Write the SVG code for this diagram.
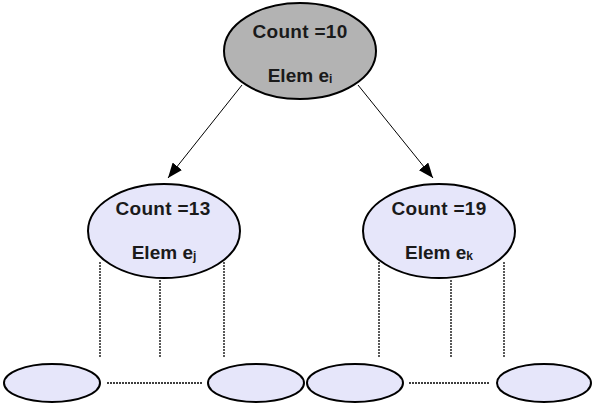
<svg xmlns="http://www.w3.org/2000/svg" width="600" height="412" viewBox="0 0 600 412">
<style>
.n{stroke:#000;stroke-width:2}
.g{fill:#b3b3b3}
.l{fill:#e6e6fa}
.t{font-family:"Liberation Sans",Arial,sans-serif;font-weight:bold;font-size:19px;fill:#1a1a1a;text-anchor:middle}
.c{letter-spacing:0.3px}
.s{font-size:12px}
.d{stroke:#000;stroke-width:1.3;stroke-dasharray:2 1;fill:none}
.a{stroke:#000;stroke-width:1;fill:none}
</style>
<defs>
<marker id="ah" viewBox="0 0 15 12" refX="15" refY="6" markerWidth="15" markerHeight="12" markerUnits="userSpaceOnUse" orient="auto">
<path d="M0,0 L15,6 L0,12 z" fill="#000"/>
</marker>
</defs>
<g id="connectors">
<line class="a" x1="242" y1="85" x2="168" y2="178" marker-end="url(#ah)"/>
<line class="a" x1="358" y1="85" x2="433" y2="178" marker-end="url(#ah)"/>
<line class="d" x1="100" y1="262" x2="100" y2="357"/>
<line class="d" x1="160" y1="280" x2="160" y2="357"/>
<line class="d" x1="224" y1="262" x2="224" y2="357"/>
<line class="d" x1="379" y1="262" x2="379" y2="357"/>
<line class="d" x1="451" y1="280" x2="451" y2="357"/>
<line class="d" x1="504" y1="262" x2="504" y2="357"/>
<line class="d" x1="107" y1="383" x2="202" y2="383"/>
<line class="d" x1="409" y1="383" x2="490" y2="383"/>
</g>
<g id="root">
<ellipse class="n g" cx="300" cy="51" rx="76" ry="48"/>
<text class="t c" x="300" y="38">Count =10</text>
<text class="t" x="300" y="82">Elem e<tspan class="s" dy="1">i</tspan></text>
</g>
<g id="left">
<ellipse class="n l" cx="164" cy="231" rx="76" ry="47"/>
<text class="t c" x="163" y="215">Count =13</text>
<text class="t" x="164" y="259">Elem e<tspan class="s" dy="1">j</tspan></text>
</g>
<g id="right">
<ellipse class="n l" cx="439" cy="231" rx="76" ry="47"/>
<text class="t c" x="439" y="215">Count =19</text>
<text class="t" x="439" y="259">Elem e<tspan class="s" dy="1">k</tspan></text>
</g>
<g id="leaf1"><ellipse class="n l" cx="52" cy="383" rx="48" ry="19"/></g>
<g id="leaf2"><ellipse class="n l" cx="256" cy="383" rx="48" ry="19"/></g>
<g id="leaf3"><ellipse class="n l" cx="355" cy="383" rx="48" ry="19"/></g>
<g id="leaf4"><ellipse class="n l" cx="544" cy="383" rx="47" ry="19"/></g>
</svg>
